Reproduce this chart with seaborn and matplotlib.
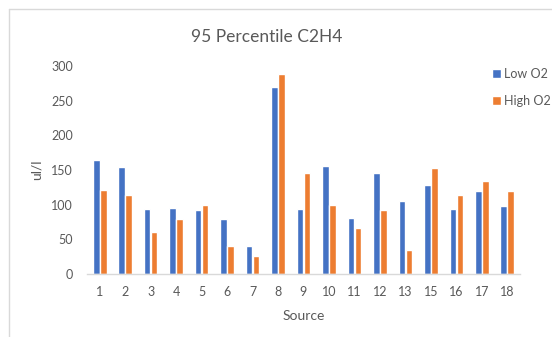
import matplotlib
matplotlib.use("Agg")
import matplotlib.pyplot as plt
from matplotlib.lines import Line2D
import pandas as pd
import seaborn as sns

sources = ["1", "2", "3", "4", "5", "6", "7", "8", "9", "10",
           "11", "12", "13", "15", "16", "17", "18"]
low_o2 = [164, 154, 94, 95, 93, 80, 40, 269, 94, 156,
          81, 145, 106, 128, 94, 120, 98]
high_o2 = [121, 114, 61, 80, 100, 40, 26, 289, 145, 99,
           66, 93, 34, 153, 114, 134, 119]
series_names = ["Low O2", "High O2"]
colors = ["#4472C4", "#ED7D31"]

df = pd.DataFrame({
    "Source": sources * 2,
    "value": low_o2 + high_o2,
    "series": [series_names[0]] * len(sources) + [series_names[1]] * len(sources),
})

sns.set_theme(style="white")
plt.rcParams["font.family"] = ["Lato", "DejaVu Sans"]

W, H = 552, 337
fig = plt.figure(figsize=(W / 100, H / 100), dpi=100)
ax = fig.add_axes([87 / W, 1 - 274 / H, (520 - 87) / W, (274 - 66) / H])

sns.barplot(data=df, x="Source", y="value", hue="series", order=sources,
            hue_order=series_names, palette=colors, width=0.55, gap=0.06,
            saturation=1, ax=ax, legend=True)

ax.set_ylim(0, 300)
ax.set_yticks(range(0, 301, 50))
ax.set_xlim(-0.5, len(sources) - 0.5)
grey = "#595959"
ax.tick_params(axis="both", length=0, colors=grey, labelsize=9)
ax.tick_params(axis="x", pad=9)
ax.tick_params(axis="y", pad=10)
for s in ["top", "right", "left"]:
    ax.spines[s].set_visible(False)
ax.spines["bottom"].set_color("#d9d9d9")
ax.spines["bottom"].set_linewidth(1)

ax.set_xlabel("Source", color=grey, fontsize=10, labelpad=8)
ax.set_ylabel("ul/l", color=grey, fontsize=10, labelpad=6)
fig.text(267 / W, 1 - 37 / H, "95 Percentile C2H4", color=grey, fontsize=12.5,
         ha="center", va="center")

handles, labels = ax.get_legend_handles_labels()
ax.legend(handles, labels, loc="upper left", bbox_to_anchor=(487 / W, 1 - 63 / H),
          bbox_transform=fig.transFigure, frameon=False, fontsize=9,
          handlelength=0.7, handleheight=0.7, handletextpad=0.3,
          labelspacing=1.2, labelcolor=grey, borderaxespad=0)

# chart area border (top and left edges)
fig.add_artist(Line2D([9 / W, 9 / W], [0, 1 - 9 / H], color="#d9d9d9", lw=1))
fig.add_artist(Line2D([9 / W, 1], [1 - 9 / H, 1 - 9 / H], color="#d9d9d9", lw=1))

fig.savefig("out.png", dpi=100)
